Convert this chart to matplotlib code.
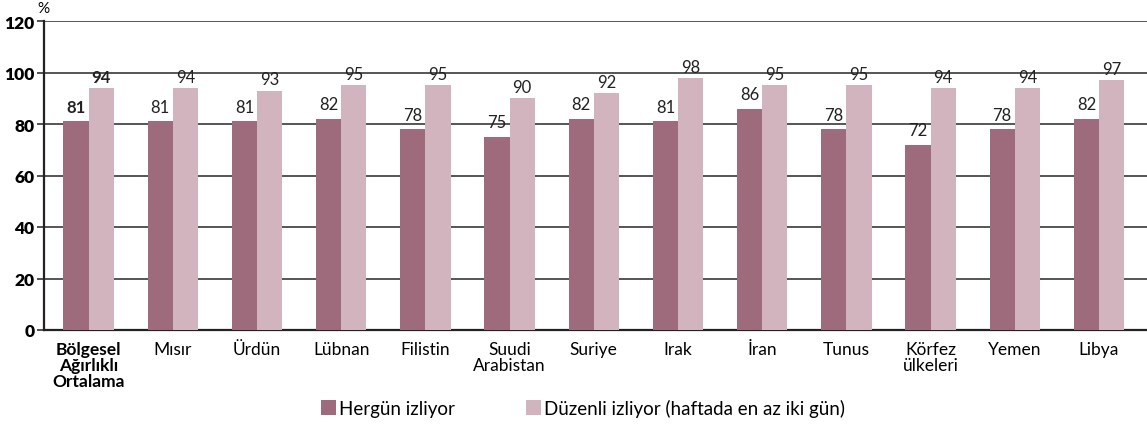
import numpy as np
import matplotlib.pyplot as plt

plt.rcParams['font.family'] = ['Lato', 'DejaVu Sans']

# ── data ─────────────────────────────────────────────
categories = ["Bölgesel\nAğırlıklı\nOrtalama", "Mısır", "Ürdün", "Lübnan", "Filistin",
              "Suudi\nArabistan", "Suriye", "Irak", "İran", "Tunus",
              "Körfez\nülkeleri", "Yemen", "Libya"]
daily = [81, 81, 81, 82, 78, 75, 82, 81, 86, 78, 72, 78, 82]
regular = [94, 94, 93, 95, 95, 90, 92, 98, 95, 95, 94, 94, 97]
series_names = ["Hergün izliyor", "Düzenli izliyor (haftada en az iki gün)"]
yticks = [0, 20, 40, 60, 80, 100, 120]

dark = "#9e6b7c"
light = "#d2b4bf"

fig = plt.figure(figsize=(11.47, 4.27), dpi=100)
ax = fig.add_axes([44 / 1147, 96 / 427, 1 - 44 / 1147, 309 / 427])

x = np.arange(len(categories))
w = 0.30
b1 = ax.bar(x - w / 2, daily, w, color=dark, zorder=3, label=series_names[0])
b2 = ax.bar(x + w / 2, regular, w, color=light, zorder=3, label=series_names[1])

for i, (r1, r2) in enumerate(zip(b1, b2)):
    wt = "bold" if i == 0 else "normal"
    ax.text(r1.get_x() + r1.get_width() / 2, r1.get_height() + 2.5, str(daily[i]),
            ha="center", va="bottom", fontsize=12, fontweight=wt, color="#222")
    ax.text(r2.get_x() + r2.get_width() / 2, r2.get_height() + 1.2, str(regular[i]),
            ha="center", va="bottom", fontsize=12, fontweight=wt, color="#222")

ax.set_ylim(0, 120)
ax.set_xlim(-0.53, len(categories) - 0.43)
ax.set_yticks(yticks)
ax.set_yticklabels([str(t) for t in yticks], fontweight="heavy", fontsize=12.5)
ax.yaxis.grid(True, color="#555", lw=1.4, zorder=0)
ax.tick_params(axis="y", length=5, width=1.2, color="#333", pad=2)
ax.tick_params(axis="x", length=0, pad=8)
ax.set_xticks(x)
ax.set_xticklabels(categories, fontsize=12.5, linespacing=1.0, va="top")
ax.get_xticklabels()[0].set_fontweight("bold")

for s in ("top", "right"):
    ax.spines[s].set_visible(False)
for s in ("left", "bottom"):
    ax.spines[s].set_color("#222")
    ax.spines[s].set_linewidth(1.6)

fig.text(37 / 1147, 1 - 9 / 427, "%", fontsize=11, ha="left", va="center")

fig.legend(handles=[b1, b2], labels=series_names, loc="center",
           bbox_to_anchor=(583 / 1147, 1 - 409 / 427), ncol=2, frameon=False,
           fontsize=13.5, handlelength=0.8, handleheight=0.8, handletextpad=0.15,
           columnspacing=3.8)

fig.savefig("out.png", dpi=100)
